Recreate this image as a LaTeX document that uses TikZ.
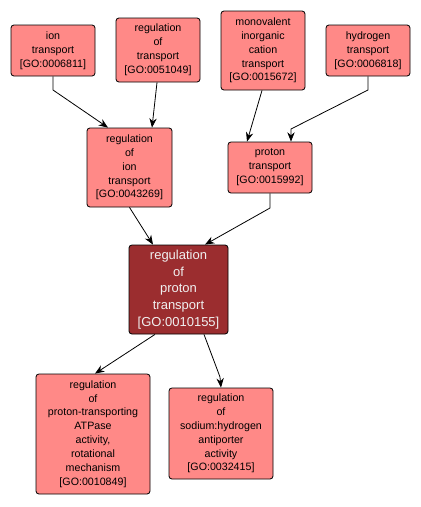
\documentclass[tikz,border=0pt]{standalone}
\usepackage{fontspec}
\setmainfont{Liberation Sans}
\usetikzlibrary{arrows.meta}
\definecolor{lightfill}{RGB}{255,137,135}
\definecolor{darkfill}{RGB}{155,45,47}
\definecolor{darktext}{RGB}{240,240,240}
\begin{document}
\begin{tikzpicture}[x=0.75pt,y=-0.75pt,
  goterm/.style={draw=black,line width=0.6pt,fill=lightfill,rounded corners=2.2pt,inner sep=0pt,
    align=center,font=\fontsize{8}{10.4}\selectfont,text=black},
  gomain/.style={goterm,fill=darkfill,text=darktext,font=\fontsize{9.75}{12.5}\selectfont},
  link/.style={draw=black,line width=0.6pt,-{Stealth[length=7pt,width=5.5pt]}}]
\useasboundingbox (0,0) rectangle (421,507);
\node[goterm,minimum width=63pt,minimum height=38.25pt] (ion) at (53,50.5) {ion\\transport\\{[GO:0006811]}};
\node[goterm,minimum width=63pt,minimum height=48pt] (regt) at (158,50) {regulation\\of\\transport\\{[GO:0051049]}};
\node[goterm,minimum width=63pt,minimum height=59.25pt] (mono) at (263,50.5) {monovalent\\inorganic\\cation\\transport\\{[GO:0015672]}};
\node[goterm,minimum width=63pt,minimum height=38.25pt] (hyd) at (368,50.5) {hydrogen\\transport\\{[GO:0006818]}};
\node[goterm,minimum width=63.75pt,minimum height=59.25pt] (region) at (129.5,167.5) {regulation\\of\\ion\\transport\\{[GO:0043269]}};
\node[goterm,minimum width=63pt,minimum height=38.25pt] (prot) at (270,167.5) {proton\\transport\\{[GO:0015992]}};
\node[gomain,minimum width=74.25pt,minimum height=66.75pt] (regprot) at (178.5,289.5) {regulation\\of\\proton\\transport\\{[GO:0010155]}};
\node[goterm,minimum width=85.5pt,minimum height=90pt] (atp) at (93,434) {regulation\\of\\proton-transporting\\ATPase\\activity,\\rotational\\mechanism\\{[GO:0010849]}};
\node[goterm,minimum width=78pt,minimum height=68.25pt] (sod) at (221,433.5) {regulation\\of\\sodium:hydrogen\\antiporter\\activity\\{[GO:0032415]}};
\coordinate (b1) at (53,90);
\coordinate (b2) at (368,90);
\coordinate (b3) at (291,129);
\coordinate (b4) at (270,208);
\coordinate (b5) at (220,377);
\draw[link] (ion.south) -- (b1) -- (region.north -| 108,0);
\draw[link] (regt.south -| 157,0) -- (region.north -| 152,0);
\draw[link] (mono.south -| 262,0) -- (prot.north -| 247,0);
\draw[link] (hyd.south) -- (b2) -- (b3) -- (prot.north -| 291,0);
\draw[link] (region.south) -- (regprot.north -| 153,0);
\draw[link] (prot.south) -- (b4) -- (regprot.north -| 205,0);
\draw[link] (regprot.south -| 155,0) -- (atp.north -| 95,0);
\draw[link] (regprot.south -| 204,0) -- (b5) -- (sod.north -| 221,0);
\end{tikzpicture}
\end{document}
